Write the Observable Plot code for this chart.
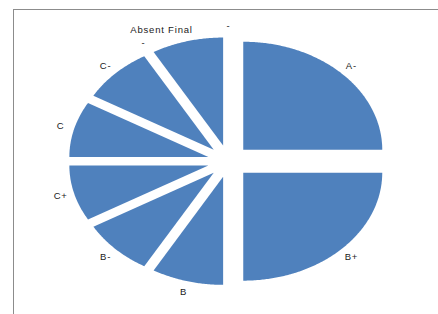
<!DOCTYPE html>
<html>
<head>
<meta charset="utf-8">
<script src="https://cdn.jsdelivr.net/npm/d3@7"></script>
<script src="https://cdn.jsdelivr.net/npm/@observablehq/plot@0.6"></script>
<style>
  html, body { margin: 0; padding: 0; background: #fff; }
  svg { display: block; }
</style>
</head>
<body>
<div id="chart"></div>
<script>
// Data
const categories = ["A-", "B+", "B", "B-", "C+", "C", "C-", "-", "Absent Final", "-"];
const counts = [3, 3, 1, 1, 1, 1, 1, 1, 0, 0];

// Layout (pixel scale of unit pie radius)
const W = 438, H = 314, ML = 13, MT = 9;
const CX = 228, CY = 160.7, RX = 139, RY = 108;
const xDom = [(ML - CX) / RX, (W - CX) / RX];
const yDom = [(CY - H) / RY, (CY - MT) / RY];
const explode = 0.15, labelR = 1.25;

const arcs = d3.pie().sort(null).value(d => d)(counts);

const pts = [];
const labels = [];
// label nudges (pixels) for the crowded labels near 12 o'clock
const nudge = {7: [-40, 12], 8: [-67, 4]};
arcs.forEach((a, i) => {
  const mid = (a.startAngle + a.endAngle) / 2;
  const ou = explode * Math.sin(mid), ov = explode * Math.cos(mid);
  if (a.value > 0) {
    pts.push({slice: i, u: ou, v: ov});
    const n = Math.max(8, Math.ceil((a.endAngle - a.startAngle) / 0.01));
    for (let k = 0; k <= n; k++) {
      const t = a.startAngle + (a.endAngle - a.startAngle) * k / n;
      pts.push({slice: i, u: ou + Math.sin(t), v: ov + Math.cos(t)});
    }
    pts.push({slice: i, u: ou, v: ov});
  }
  const [ndx, ndy] = nudge[i] || [0, 0];
  labels.push({
    label: categories[i],
    u: labelR * Math.sin(mid) + ndx / RX,
    v: labelR * Math.cos(mid) - ndy / RY
  });
});

const chart = Plot.plot({
  width: W, height: H,
  marginLeft: ML, marginTop: MT, marginRight: 0, marginBottom: 0,
  x: {domain: xDom, axis: null},
  y: {domain: yDom, axis: null},
  style: {background: "#fff", fontFamily: "'Liberation Sans', Arial, sans-serif"},
  marks: [
    Plot.ruleX([xDom[0]], {stroke: "#8c8c8c", strokeWidth: 1}),
    Plot.ruleY([yDom[1]], {stroke: "#8c8c8c", strokeWidth: 1}),
    Plot.line(pts, {x: "u", y: "v", z: "slice", fill: "#4f81bd", stroke: "none", curve: "linear"}),
    Plot.text(labels, {x: "u", y: "v", text: "label", fill: "#1a1a1a", fontSize: 9.5,
      style: "letter-spacing:0.8px", textAnchor: "middle"})
  ]
});
chart.querySelectorAll("text").forEach(t => t.style.letterSpacing = "0.8px");
document.getElementById("chart").appendChild(chart);
</script>
</body>
</html>
